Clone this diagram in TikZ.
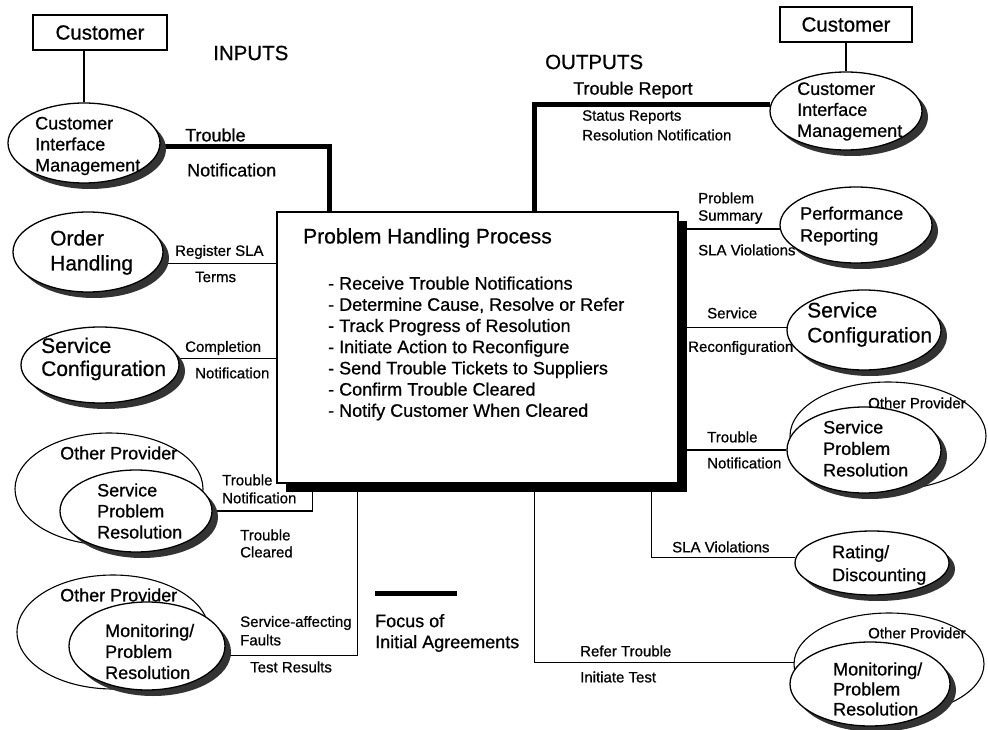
\documentclass[tikz,border=0pt]{standalone}
\usepackage{fontspec}
\setmainfont{Liberation Sans}[FakeBold=0.7]
\usetikzlibrary{shapes.geometric,shadows,backgrounds}

% type sizes
\newcommand\szS{\fontsize{15}{17}\selectfont}
\newcommand\szM{\fontsize{18}{21}\selectfont}
\newcommand\szL{\fontsize{20.5}{24}\selectfont}
\newcommand\szH{\fontsize{21}{24.5}\selectfont}

\tikzset{
  proc/.style={ellipse, draw, line width=1.3pt, fill=white, inner sep=0pt,
    drop shadow={shadow xshift=6pt, shadow yshift=-6pt, fill=black!80, opacity=1}},
  party/.style={ellipse, draw, line width=1.1pt, fill=white, inner sep=0pt},
  txt/.style={inner sep=0pt, anchor=west, align=left},
  custbox/.style={draw, line width=1.1pt, fill=white, inner sep=0pt,
    minimum height=35pt, font=\szL},
  flow/.style={line width=1.1pt},
  focus/.style={line width=5pt},
}

\begin{document}
\begin{tikzpicture}[x=1pt,y=-1pt]
\useasboundingbox (0,0) rectangle (988,730);

% central process
\node[draw, line width=1.5pt, fill=white, inner sep=0pt,
      minimum width=401pt, minimum height=271pt,
      drop shadow={shadow xshift=9pt, shadow yshift=-9pt, fill=black, opacity=1}]
      (box) at (477.5,347.5) {};
\node[txt, font=\szH] (title) at (303,238) {Problem Handling Process};
\node[txt, font=\fontsize{18}{21.2}\selectfont] (tasks) at (328,348.5)
  {- Receive Trouble Notifications\\
   - Determine Cause, Resolve or Refer\\
   - Track Progress of Resolution\\
   - Initiate Action to Reconfigure\\
   - Send Trouble Tickets to Suppliers\\
   - Confirm Trouble Cleared\\
   - Notify Customer When Cleared};

% customers
\node[custbox, minimum width=134pt] (custL) at (100,32.5) {Customer};
\node[custbox, minimum width=132pt] (custR) at (846,24.5) {Customer};

\node[txt, font=\szL] (inputs) at (213,53) {INPUTS};
\node[txt, font=\szL] (outputs) at (545,62) {OUTPUTS};

% input side processes
\node[proc, minimum width=152pt, minimum height=80pt] (cimL) at (84,143) {};
\node[txt, font=\szM] (cimLt) at (35,146) {Customer\\Interface\\Management};

\node[proc, minimum width=150pt, minimum height=80pt] (ordL) at (88,252) {};
\node[txt, font=\fontsize{21}{25}\selectfont] (ordLt) at (50,252.5) {Order\\Handling};

\node[proc, minimum width=158pt, minimum height=76pt] (scL) at (100,365) {};
\node[txt, font=\fontsize{21}{23}\selectfont] (scLt) at (41,359) {Service\\Configuration};

\node[party, minimum width=188pt, minimum height=112pt] (sprLo) at (109,489) {};
\node[txt, font=\szM] (sprLot) at (60,453) {Other Provider};
\node[proc, minimum width=152pt, minimum height=82pt] (sprLi) at (136,511) {};
\node[txt, font=\szM] (sprLit) at (97,511) {Service\\Problem\\Resolution};

\node[party, minimum width=192pt, minimum height=114pt] (monLo) at (113,632) {};
\node[txt, font=\szM] (monLot) at (60,595) {Other Provider};
\node[proc, minimum width=156pt, minimum height=88pt] (monLi) at (147,646) {};
\node[txt, font=\szM] (monLit) at (105,651.5) {Monitoring/\\Problem\\Resolution};

% output side processes
\node[proc, minimum width=152pt, minimum height=78pt] (cimR) at (846,111) {};
\node[txt, font=\szM] (cimRt) at (797,111.5) {Customer\\Interface\\Management};

\node[proc, minimum width=152pt, minimum height=76pt] (prR) at (856,225) {};
\node[txt, font=\fontsize{18}{22}\selectfont] (prRt) at (800,226) {Performance\\Reporting};

\node[proc, minimum width=154pt, minimum height=80pt] (scR) at (864,330) {};
\node[txt, font=\fontsize{21}{25}\selectfont] (scRt) at (807,324.5) {Service\\Configuration};

\node[party, minimum width=196pt, minimum height=108pt] (sprRo) at (888,436) {};
\node[txt, font=\szS] (sprRot) at (868,403) {Other Provider};
\node[proc, minimum width=154pt, minimum height=86pt] (sprRi) at (864,450) {};
\node[txt, font=\fontsize{18}{21.5}\selectfont] (sprRit) at (823,448.5) {Service\\Problem\\Resolution};

\node[proc, minimum width=154pt, minimum height=64pt] (ratR) at (872,563) {};
\node[txt, font=\fontsize{18}{23}\selectfont] (ratRt) at (832,565) {Rating/\\Discounting};

\node[party, minimum width=190pt, minimum height=102pt] (monRo) at (889,664) {};
\node[txt, font=\szS] (monRot) at (868,633) {Other Provider};
\node[proc, minimum width=160pt, minimum height=84pt] (monRi) at (870,684) {};
\node[txt, font=\fontsize{18}{20}\selectfont] (monRit) at (833,689) {Monitoring/\\Problem\\Resolution};

% flow labels
\node[txt, font=\szM] (l1) at (185,135) {Trouble};
\node[txt, font=\szM] (l2) at (187,170) {Notification};
\node[txt, font=\szM] (l3) at (573,90) {Trouble Report};
\node[txt, font=\szS] (l4) at (582,117) {Status Reports};
\node[txt, font=\szS] (l5) at (582,135) {Resolution Notification};
\node[txt, font=\szS] (l6) at (175,252) {Register SLA};
\node[txt, font=\szS] (l7) at (195,277) {Terms};
\node[txt, font=\szS] (l8) at (185,348) {Completion};
\node[txt, font=\szS] (l9) at (195,373) {Notification};
\node[txt, font=\szS] (l10) at (222,480) {Trouble};
\node[txt, font=\szS] (l11) at (222,498) {Notification};
\node[txt, font=\szS] (l12) at (240,535) {Trouble};
\node[txt, font=\szS] (l13) at (240,552) {Cleared};
\node[txt, font=\szS] (l14) at (240,623) {Service-affecting};
\node[txt, font=\szS] (l15) at (240,640) {Faults};
\node[txt, font=\szS] (l16) at (250,667) {Test Results};
\node[txt, font=\szS] (l17) at (698,198) {Problem};
\node[txt, font=\szS] (l18) at (698,217) {Summary};
\node[txt, font=\szS] (l19) at (698,250) {SLA Violations};
\node[txt, font=\szS] (l20) at (707,313) {Service};
\node[txt, font=\szS] (l21) at (688,348) {Reconfiguration};
\node[txt, font=\szS] (l22) at (707,437) {Trouble};
\node[txt, font=\szS] (l23) at (707,463) {Notification};
\node[txt, font=\szS] (l24) at (672,547) {SLA Violations};
\node[txt, font=\szS] (l25) at (580,651) {Refer Trouble};
\node[txt, font=\szS] (l26) at (580,677) {Initiate Test};

% legend
\coordinate (legA) at (375,593);
\coordinate (legB) at (457,593);
\draw[focus] (legA) -- (legB);
\node[txt, font=\szM] (legt) at (375,633) {Focus of\\Initial Agreements};

\begin{scope}[on background layer]
  \fill[white] (0,0) rectangle (988,730);
  \draw[flow] (cimL.north) -- (cimL.north |- custL.south);
  \draw[flow] (cimR.north) -- (cimR.north |- custR.south);
  \draw[focus] (cimL.-3) -| ([xshift=53pt]box.north west);
  \draw[focus] ([xshift=258pt]box.north west) |- (cimR.175);
  \draw[flow] (ordL.-9) -- (ordL.-9 -| box.west);
  \draw[flow] (scL.5) -- (scL.5 -| box.west);
  \draw[flow] (sprLi.east) -| ([xshift=36pt]box.south west);
  \draw[flow] (monLi.-7) -| ([xshift=81pt]box.south west);
  \draw[flow] (prR.-3) -- (prR.-3 -| box.east);
  \draw[flow] (scR.178) -- (scR.178 -| box.east);
  \draw[flow] (sprRi.west) -- (sprRi.west -| box.east);
  \draw[flow] ([xshift=375pt]box.south west) |- (ratR.176);
  \draw[flow] ([xshift=258pt]box.south west) |- (monRi.163);
\end{scope}
\end{tikzpicture}
\end{document}
